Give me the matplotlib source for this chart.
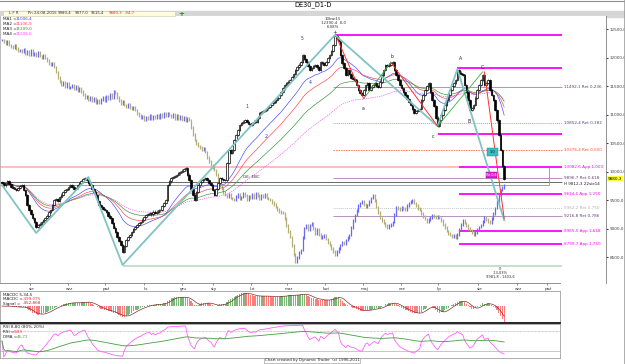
import matplotlib.pyplot as plt
import matplotlib.patches as patches
import numpy as np
import pandas as pd

W, H = 625, 364

# daily closes of DE30 (black candles)
closes = [
    9800, 9760, 9790, 9830, 9790, 9740, 9714, 9700, 9680, 9720,
    9750, 9767, 9680, 9591, 9416, 9330, 9260, 9180, 9118, 9030,
    9070, 9090, 9118, 9150, 9188, 9230, 9290, 9328, 9420, 9504,
    9520, 9490, 9550, 9600, 9650, 9680, 9700, 9740, 9767, 9740,
    9700, 9714, 9760, 9800, 9830, 9870, 9890, 9850, 9800, 9767,
    9700, 9640, 9591, 9480, 9416, 9380, 9350, 9328, 9290, 9230,
    9188, 9100, 9020, 8942, 8860, 8780, 8714, 8591, 8700, 8800,
    8850, 8890, 8940, 8990, 9030, 9060, 9100, 9118, 9160, 9200,
    9240, 9260, 9280, 9250, 9300, 9280, 9300, 9320, 9328, 9400,
    9450, 9504, 9767, 9830, 9890, 9910, 9930, 9942, 9970, 9995,
    10020, 10040, 10065, 9950, 9854, 9700, 9600, 9504, 9650, 9760,
    9819, 9850, 9870, 9890, 9850, 9800, 9770, 9680, 9591, 9700,
    9800, 9890, 9870, 9860, 9854, 10150, 10381, 10330, 10380, 10556,
    10640, 10730, 10820, 10860, 10880, 10907, 10870, 10840, 10819, 10850,
    10880, 10872, 10950, 11030, 11050, 11060, 11082, 11110, 11140, 11170,
    11200, 11230, 11258, 11300, 11345, 11400, 11460, 11521, 11550, 11580,
    11608, 11660, 11720, 11784, 11830, 11880, 11924, 12047, 11980, 11924,
    11850, 11784, 11820, 11850, 11872, 11830, 11784, 11924, 11900, 11872,
    11930, 11990, 12047, 12120, 12222, 12380, 12340, 12300, 12047, 11900,
    11819, 11696, 11780, 11720, 11650, 11620, 11600, 11520, 11433, 11380,
    11345, 11430, 11521, 11550, 11433, 11480, 11520, 11550, 11510, 11480,
    11580, 11700, 11790, 11872, 11850, 11880, 11900, 11920, 11784, 11700,
    11610, 11520, 11460, 11400, 11345, 11280, 11220, 11170, 11100, 11030,
    11060, 11080, 11100, 11250, 11350, 11433, 11500, 11560, 11400, 11258,
    11150, 10950, 10800, 10900, 11000, 11080, 11170, 11260, 11350, 11433,
    11500, 11560, 11608, 11780, 11740, 11720, 11696, 11521, 11400, 11258,
    11082, 11120, 11170, 11300, 11433, 11520, 11608, 11700, 11521, 11560,
    11608, 11433, 11340, 11258, 11082, 10900, 10650, 10381, 10100, 9880,
]

# overlay series (blue / olive bars)
overlay = [
    12310, 12280, 12250, 12290, 12222, 12200, 12170, 12210, 12160, 12120,
    12135, 12100, 12150, 12080, 12110, 12060, 12120, 12050, 12082, 12040,
    12090, 12030, 12000, 12040, 11994, 11950, 11900, 11872, 11900, 11837,
    11750, 11650, 11580, 11521, 11560, 11500, 11540, 11470, 11486, 11520,
    11450, 11500, 11430, 11468, 11400, 11350, 11293, 11320, 11260, 11300,
    11240, 11280, 11220, 11250, 11205, 11260, 11300, 11250, 11320, 11280,
    11350, 11300, 11400, 11380, 11300, 11250, 11200, 11230, 11170, 11140,
    11180, 11120, 11100, 11130, 11082, 11020, 10980, 10942, 10970, 10920,
    10960, 10930, 10980, 10940, 10970, 10942, 10990, 10950, 11010, 10960,
    11020, 10980, 11030, 10995, 10960, 11000, 10940, 10980, 10930, 10970,
    10920, 10960, 10900, 10940, 10907, 10780, 10650, 10556, 10500, 10450,
    10420, 10380, 10400, 10345, 10250, 10180, 10117, 10080, 10030, 9950,
    9850, 9760, 9700, 9640, 9591, 9560, 9600, 9540, 9520, 9504,
    9560, 9600, 9530, 9556, 9620, 9580, 9510, 9560, 9539, 9600,
    9550, 9620, 9580, 9520, 9590, 9556, 9600, 9540, 9520, 9504,
    9460, 9420, 9380, 9330, 9300, 9290, 9275, 9180, 9050, 8950,
    8855, 8700, 8550, 8416, 8500, 8580, 8627, 8850, 9012, 9060,
    8980, 9065, 9100, 9000, 8920, 8980, 8900, 8837, 8860, 8890,
    8820, 8760, 8714, 8650, 8600, 8539, 8600, 8660, 8714, 8760,
    8740, 8802, 8850, 8890, 9020, 9150, 9240, 9320, 9400, 9451,
    9480, 9430, 9390, 9416, 9480, 9540, 9591, 9500, 9380, 9280,
    9188, 9150, 9100, 9060, 9012, 9050, 9080, 9118, 9250, 9381,
    9360, 9330, 9380, 9350, 9328, 9400, 9450, 9480, 9504, 9450,
    9400, 9360, 9328, 9270, 9220, 9170, 9118, 9160, 9200, 9240,
    9220, 9190, 9210, 9188, 9140, 9080, 9020, 8960, 8920, 8890,
    8860, 8880, 8837, 8900, 8980, 9080, 9153, 9100, 9050, 9000,
    8978, 8930, 8890, 8940, 8990, 9030, 9065, 9130, 9205, 9160,
    9120, 9100, 9180, 9270, 9363, 9470, 9591, 9679, 9720, 9760,
]

month_labels = ["sie", "wrz", "paź", "lis", "gru", "sty", "lut", "mar",
                "kwi", "maj", "cze", "lip", "sie", "wrz", "paź"]
month_idx = [15.6, 36.7, 57.2, 78.9, 100, 117.2, 138.3, 158.3,
             179.4, 200.6, 221.7, 242.2, 264.4, 286.1, 302.8]

# fib / target levels: price, label, kind, first bar
lvl_price = [12390.5, 11820, 11492.1, 10852.4, 10661, 10376.4, 10082.6,
             9896.7, 9614.6, 9362.2, 9216.8, 8965.5, 8739.7, 8341]
lvl_label = ["", "", "11492,1 Ret 0,236", "10852,4 Ret 0,382", "", "10376,4 Ret 0,500",
             "10082,6 App 1,000", "9896,7 Ret 0,618", "9614,6 App 1,250", "9362,2 Ret 0,750",
             "9216,8 Ret 0,786", "8965,5 App 1,618", "8739,7 App 1,750", ""]
lvl_kind = ["app", "app", "ret", "ret2", "app", "half", "app",
            "ret", "app", "dot", "ret", "app", "app", "base"]
lvl_start = [185, 253, 184, 184, 242, 184, 254, 184, 254, 184, 184, 254, 254, 67]
lvl_end = 311

# zigzag pivots (bar, price)
teal_i = [0, 19, 48, 67, 185, 242, 253, 279]
teal_p = [9765, 8925, 9907, 8364, 12398, 10800, 11800, 9150]
red_segs = [[(186, 12350), (201, 11280)], [(216, 11920), (242, 10800)], [(268, 11750), (279, 9180)]]
green_segs = [[(201, 11280), (216, 11920)], [(242, 10800), (267, 11750)]]

wave_text = ["1", "2", "4", "5", "a", "b", "c", "A", "B", "C"]
wave_i = [136, 146.7, 171, 166.7, 200.6, 216.7, 239.4, 255, 259.4, 267]
wave_p = [11135, 10626, 11556, 12345, 11117, 12012, 10626, 11977, 10872, 11836]

ma_names = ["MA1", "MA2", "MA3", "MA4"]
ma_values = ["11006,4", "11106,9", "11209,0", "11208,6"]
header_vals = ["Pn 24-08-2015", "9980,4", "9977,0", "9615,4", "9880,3", "-94,7"]


def fx(px):
    return px / W


def fy(py):
    return 1 - py / H


c = pd.Series(closes, dtype=float)
o = c.shift(1).fillna(c.iloc[0] + 20)
idx = np.arange(len(c))
ov = pd.Series(overlay, dtype=float)
ov_o = ov.shift(1).fillna(ov.iloc[0])

fig = plt.figure(figsize=(6.25, 3.64), dpi=100)

# top bars
fig.text(fx(313), fy(5), "DE30_D1-D", ha='center', va='center', fontsize=4.8)
fig.add_artist(patches.Rectangle((0, fy(17)), 1, 6 / H, transform=fig.transFigure,
                                 color='#d6d6d6', zorder=0))
fig.add_artist(plt.Line2D([0, 1], [fy(1), fy(1)], color='#909090', lw=0.8))
fig.add_artist(patches.Rectangle((fx(3), fy(16)), fx(172), 5 / H, transform=fig.transFigure,
                                 facecolor='#fffbe0', edgecolor='#c8c8a8', lw=0.4))
fig.text(fx(9), fy(13.5), "L F R", fontsize=2.8, va='center', color='#303060')
hx = [28, 58, 75, 91, 109, 125]
for k, t in enumerate(header_vals):
    fig.text(fx(hx[k]), fy(13.5), t, fontsize=2.8, va='center',
             color='#e03030' if k >= 4 else '#303030')
fig.text(fx(181), fy(13.5), "+", fontsize=5, va='center', ha='center', color='#209020',
         fontweight='bold')

# main price panel
ax = fig.add_axes([0, fy(283), fx(606), (283 - 16) / H])
ax.set_xlim(-1.1, -1.1 + 606 / 1.8)
ax.set_ylim(8048, 12731)

# moving averages
ma_cols = ['#4040ff', '#ff4040', '#309030', '#ff40ff']
for n, col, ls in zip([21, 34, 55, 89], ma_cols, ['-', '-', '-', (0, (2, 1.5))]):
    ax.plot(idx, c.ewm(span=n).mean(), color=col, lw=0.45, ls=ls, zorder=3)

# overlay bars
up_ov = ov >= ov_o
ax.vlines(idx, np.minimum(ov, ov_o) - 25, np.maximum(ov, ov_o) + 25,
          colors=np.where(up_ov, '#6868ff', '#b4ad78'), lw=0.9, zorder=2)

# candles
up = c >= o
ax.bar(idx, c - o, bottom=o, width=0.85, color=np.where(up, 'white', 'black'),
       edgecolor='black', linewidth=0.5, zorder=5)
ax.vlines(idx, np.minimum(c, o) - 20, np.maximum(c, o) + 20, colors='black', lw=0.4, zorder=4)

# horizontal levels
styles = {
    'app': dict(color='#ff00ff', lw=1.3, ls='-'),
    'ret': dict(color='#b890c0', lw=0.7, ls='-'),
    'ret2': dict(color='#c890d0', lw=0.7, ls=(0, (1, 1))),
    'half': dict(color='#ff7050', lw=0.6, ls=(0, (2, 1))),
    'dot': dict(color='#c8c8c8', lw=0.7, ls=(0, (1, 1))),
    'base': dict(color='#c0d8c0', lw=1.2, ls='-'),
}
lab_cols = {'app': '#ff00ff', 'ret': '#604070', 'ret2': '#604070', 'half': '#ff5030',
            'dot': '#b0b0b0', 'base': '#808080'}
for p, lab, kind, s in zip(lvl_price, lvl_label, lvl_kind, lvl_start):
    ax.hlines(p, s, lvl_end, zorder=1, **styles[kind])
    if lab:
        ax.text(lvl_end + 1.5, p, lab, fontsize=3, va='center', color=lab_cols[kind])

# long lines across the chart and the box
ax.hlines(10082.6, -2, 254, color='#ffb8b8', lw=1.3, zorder=1)
ax.hlines(9812.3, -2, lvl_end, color='#505050', lw=0.6, zorder=1)
ax.hlines(9765, -2, 304, color='#d08050', lw=0.6, zorder=1)
ax.vlines(304, 9765, 10082.6, color='#e08040', lw=0.6, zorder=1)
ax.text(lvl_end + 1.5, 9790, "H 9812,3 22sie14", fontsize=3, va='center', color='#202020')
ax.text(134, 9907, "GE: EBC", fontsize=3, va='center', color='#303030')

# zigzags
ax.plot(teal_i, teal_p, color='#80c4c4', lw=1.3, zorder=6)
for seg in red_segs:
    ax.plot(*zip(*seg), color='#ff3030', lw=0.7, zorder=6)
for seg in green_segs:
    ax.plot(*zip(*seg), color='#40b040', lw=0.6, zorder=6)
for t, xi, p in zip(wave_text, wave_i, wave_p):
    col = '#3030c0' if t.isdigit() else '#202020'
    ax.text(xi, p, t, fontsize=3.3, ha='center', va='center', color=col, zorder=7)

# small boxes near the end
ax.add_patch(patches.Rectangle((269.4, 10274), 6.2, 140, facecolor='#30c0c8',
                               edgecolor='#208080', lw=0.3, zorder=7))
ax.text(272.5, 10344, "1,0", fontsize=2.5, ha='center', va='center', zorder=8)
ax.add_patch(patches.Rectangle((269, 9889), 6.2, 106, facecolor='#e020d0',
                               edgecolor='#800080', lw=0.3, zorder=7))
ax.text(272.1, 9942, "Rit 0,6", fontsize=2.3, ha='center', va='center', zorder=8, color='white')

# annotations at the top and at the end
for k, t in enumerate(["10kwi15", "12390,4  0,0", "6,08%"]):
    ax.text(184, 12679 - k * 71, t, fontsize=2.8, ha='center', va='center', color='#303030')
ax.text(185, 12450, "+", fontsize=4, ha='center', va='center', color='#303030')
for k, t in enumerate(["0", "-13,03%", "9981,8 - 1403,6"]):
    ax.text(276.7, 8290 - k * 70, t, fontsize=2.6, ha='center', va='center', color='#303030',
            clip_on=False)

# right price axis
ax.yaxis.tick_right()
ax.set_yticks(range(8500, 13000, 500))
ax.set_yticklabels([f"{v:.1f}".replace('.', ',') for v in range(8500, 13000, 500)])
ax.tick_params(axis='y', labelsize=3, length=1.5, pad=1, colors='#404040')
ax.tick_params(axis='x', bottom=False, labelbottom=False)
for sp in ['top', 'bottom']:
    ax.spines[sp].set_visible(False)
ax.spines['left'].set_color('#b0b0b0')
ax.spines['right'].set_color('#808080')
ax.spines['left'].set_linewidth(0.6)
ax.spines['right'].set_linewidth(0.6)
ax.text(1.003, closes[-1], "9880,3", transform=ax.get_yaxis_transform(), fontsize=3,
        va='center', ha='left', bbox=dict(facecolor='#ffff40', edgecolor='none', pad=0.6))

# MA legend
for k, (nm, v, col) in enumerate(zip(ma_names, ma_values, ma_cols)):
    fig.text(fx(3), fy(19.5 + k * 4.8), nm + " =", fontsize=3, va='center', color='#202020')
    fig.text(fx(16), fy(19.5 + k * 4.8), v, fontsize=3, va='center', color=col)

lower_xlim = (-1.1, -1.1 + 560 / 1.8)

# date strip
axd = fig.add_axes([0, fy(291), fx(560), 8 / H])
axd.set_xlim(*lower_xlim)
axd.set_ylim(0, 1)
axd.vlines(month_idx, 0.7, 1, color='#606060', lw=0.5)
for m, lab in zip(month_idx, month_labels):
    axd.text(m + 0.8, 0.3, lab, fontsize=3, ha='center', va='center', color='#303030')
axd.set_xticks([])
axd.set_yticks([])
for sp in axd.spines.values():
    sp.set_visible(False)
axd.spines['top'].set_visible(True)
axd.spines['top'].set_color('#808080')
axd.spines['top'].set_linewidth(0.6)

# MACD panel
macd = c.ewm(span=5, adjust=False).mean() - c.ewm(span=34, adjust=False).mean()
signal = macd.rolling(5, min_periods=1).mean()
axm = fig.add_axes([0, fy(323), fx(560), 32 / H])
axm.set_xlim(*lower_xlim)
axm.bar(idx, macd, width=0.7, color=np.where(macd >= signal, '#78b878', '#ff7c7c'))
axm.plot(idx, signal, color='#803030', lw=0.5)
axm.set_ylim(macd.min() * 1.04, macd.max() * 1.15)
axm.set_xticks([])
axm.set_yticks([])
for sp in axm.spines.values():
    sp.set_color('#a0a0a0')
    sp.set_linewidth(0.6)
axm.spines['bottom'].set_color('black')
axm.spines['bottom'].set_linewidth(1.2)
fig.text(fx(3), fy(294.5), "MACDC 5,34,5", fontsize=3, va='center', color='#202020')
fig.text(fx(3), fy(299), "MACDC =", fontsize=3, va='center', color='#202020')
fig.text(fx(23), fy(299), "-499,075", fontsize=3, va='center', color='#ff3030')
fig.text(fx(3), fy(303.5), "Signal =", fontsize=3, va='center', color='#202020')
fig.text(fx(23), fy(303.5), "-452,868", fontsize=3, va='center', color='#a03030')

# RSI panel
d = c.diff()
gain = d.clip(lower=0).ewm(alpha=1 / 8, adjust=False).mean()
loss = (-d.clip(upper=0)).ewm(alpha=1 / 8, adjust=False).mean()
rsi = (100 - 100 / (1 + gain / loss)).fillna(50)
dma = rsi.ewm(span=80).mean()
axr = fig.add_axes([0, fy(358), fx(560), 34 / H])
axr.set_xlim(*lower_xlim)
axr.set_ylim(-3, 103)
axr.hlines([80], *lower_xlim, color='#a0a0a0', lw=0.5, ls=(0, (1, 1)))
axr.hlines([20], *lower_xlim, color='#b0b0b0', lw=0.5)
axr.plot(idx, rsi, color='#ff60ff', lw=0.6)
axr.plot(idx, dma, color='#40a040', lw=0.6)
axr.set_xticks([])
axr.set_yticks([])
for sp in axr.spines.values():
    sp.set_color('#a0a0a0')
    sp.set_linewidth(0.6)
fig.text(fx(3), fy(327.5), "RSI 8,80 (80%-20%)", fontsize=3, va='center', color='#202020')
fig.text(fx(3), fy(332), "RSI =", fontsize=3, va='center', color='#202020')
fig.text(fx(14), fy(332), "9,83", fontsize=3, va='center', color='#ff3030')
fig.text(fx(3), fy(336.5), "DMA =", fontsize=3, va='center', color='#202020')
fig.text(fx(17), fy(336.5), "46,72", fontsize=3, va='center', color='#40a040')

fig.text(fx(312), fy(360.5), "Chart created by Dynamic Trader  (c) 1996-2011", fontsize=2.8,
         ha='center', va='center', color='#202020',
         bbox=dict(facecolor='white', edgecolor='#909090', lw=0.4, pad=0.5))
fig.add_artist(plt.Line2D([fx(624), fx(624)], [0, 1], color='#a0a0a0', lw=0.6))

fig.savefig("out.png", dpi=100)
